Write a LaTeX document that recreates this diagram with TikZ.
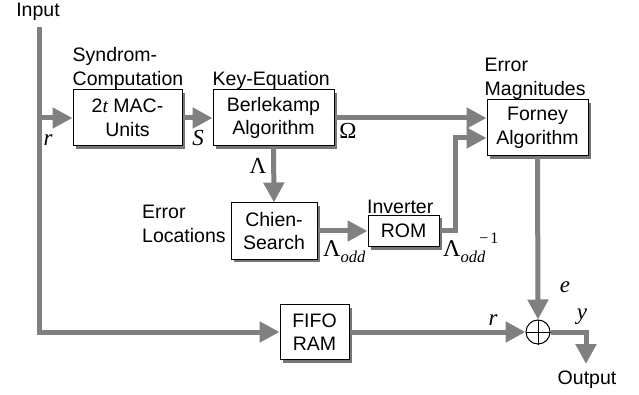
\documentclass[tikz,border=0pt]{standalone}
\usepackage{fontspec}
\setmainfont{Liberation Sans}
\newfontfamily\mathserif{Liberation Serif}
\usetikzlibrary{arrows.meta,shadows}
\definecolor{flow}{RGB}{128,128,128}
\definecolor{shade}{RGB}{118,118,118}

\begin{document}
\begin{tikzpicture}[x=1pt,y=-1pt,
  every node/.style={font=\fontsize{19.5pt}{23.5pt}\selectfont},
  block/.style={draw=black, line width=1pt, fill=white, inner sep=0pt, align=center,
    general shadow={fill=shade, shadow xshift=3pt, shadow yshift=-3pt}},
  flowline/.style={draw=flow, line width=5pt},
  flowarrow/.style={flowline, -{Triangle[length=20pt,width=20pt]}},
  caption/.style={inner sep=0pt, align=left},
  sym/.style={inner sep=0pt, font=\mathserif\fontsize{23pt}{23pt}\selectfont},
  symit/.style={sym, font=\mathserif\itshape\fontsize{23pt}{23pt}\selectfont},
]
\useasboundingbox (0,0) rectangle (639,395);

% processing blocks
\node[block, minimum width=109pt, minimum height=56pt] (mac) at (127.5,118) {2{\mathserif\itshape t} MAC-\\Units};
\node[block, minimum width=121pt, minimum height=56pt] (bm) at (273.5,118) {Berlekamp\\Algorithm};
\node[block, minimum width=101pt, minimum height=56pt] (forney) at (537.5,128) {Forney\\Algorithm};
\node[block, minimum width=86pt, minimum height=56pt] (chien) at (274,231) {Chien-\\Search};
\node[block, minimum width=71pt, minimum height=31pt] (rom) at (403.5,231) {ROM};
\node[block, minimum width=69pt, minimum height=55pt] (fifo) at (314.5,332) {FIFO\\RAM};
\node[draw=black, line width=1pt, fill=white, circle, minimum size=24pt, inner sep=0pt] (sum) at (538,332) {};
\draw[line width=1pt] (sum.north) -- (sum.south) (sum.west) -- (sum.east);

% block captions
\node[caption, anchor=south west] (capsyn) at (mac.north west) {Syndrom-\\Computation};
\node[caption, anchor=south west] (capkey) at (bm.north west) {Key-Equation};
\node[caption, anchor=south west] (capmag) at ([xshift=-2pt]forney.north west) {Error\\Magnitudes};
\node[caption, anchor=base west] (capinv) at (367,214) {Inverter};
\node[caption, anchor=west] (caploc) at (142,224) {Error\\Locations};
\node[inner sep=0pt] (input) at (38,12) {Input};
\node[inner sep=0pt] (output) at (587,380) {Output};

% data flow
\coordinate (top) at (39,27);
\coordinate (bend) at (455,138);
\coordinate (out) at (586,364);
\draw[flowarrow] (top) |- (fifo.west);
\draw[flowarrow] (top |- mac.west) -- (mac.west);
\draw[flowarrow] (mac.east) -- (bm.west);
\draw[flowarrow] (bm.east) -- (bm.east -| forney.west);
\draw[flowarrow] (bm.south) -- (chien.north);
\draw[flowarrow] (chien.east) -- (rom.west);
\draw[flowarrow] (rom.east) -| (bend) -- (bend -| forney.west);
\draw[flowarrow] (forney.south) -- (sum.north);
\draw[flowarrow] (fifo.east) -- (sum.west);
\draw[flowarrow] (sum.east) -| (out);

% signal names
\node[symit] (lr) at (48,140) {r};
\node[symit] (ls) at (198,138) {S};
\node[sym] (lomega) at (348,131) {Ω};
\node[sym] (llambda) at (258,166) {Λ};
\node[sym, anchor=base west, font=\mathserif\fontsize{24pt}{24pt}\selectfont] (lodd) at (323,256)
  {Λ\raisebox{-6pt}{\fontsize{16.5pt}{16.5pt}\selectfont\itshape odd}};
\node[sym, anchor=base west, font=\mathserif\fontsize{24pt}{24pt}\selectfont] (linv) at (443,256)
  {Λ\raisebox{-6pt}{\fontsize{16.5pt}{16.5pt}\selectfont\itshape odd}\kern-6pt\raisebox{13pt}{\fontsize{16pt}{16pt}\selectfont −\kern2pt1}};
\node[symit] (le) at (565,287) {e};
\node[symit] (lr2) at (493,320) {r};
\node[symit] (ly) at (582,317) {y};
\end{tikzpicture}
\end{document}
